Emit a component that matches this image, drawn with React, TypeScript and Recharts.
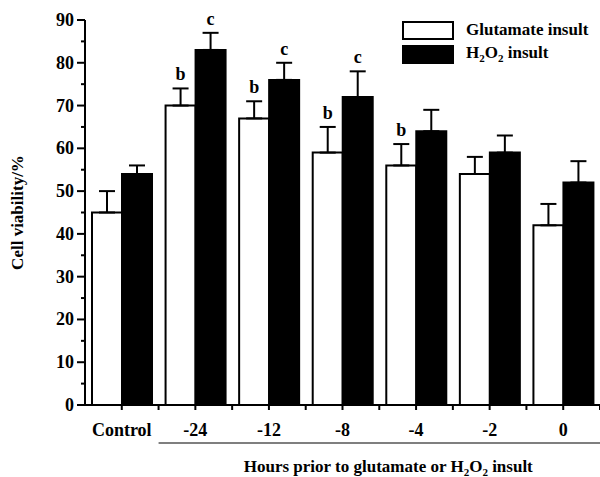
import { Bar, BarChart, ErrorBar, LabelList, XAxis, YAxis } from "recharts";

const categories = ["Control", "-24", "-12", "-8", "-4", "-2", "0"];
const glutamateMean = [45, 70, 67, 59, 56, 54, 42];
const glutamateErr = [5, 4, 4, 6, 5, 4, 5];
const h2o2Mean = [54, 83, 76, 72, 64, 59, 52];
const h2o2Err = [2, 4, 4, 6, 5, 4, 5];
const glutamateSig = ["", "b", "b", "b", "b", "", ""];
const h2o2Sig = ["", "c", "c", "c", "", "", ""];
const yTicks = [0, 5, 10, 15, 20, 25, 30, 35, 40, 45, 50, 55, 60, 65, 70, 75, 80, 85, 90];

const FONT = "'Liberation Serif', 'Times New Roman', serif";

const data = categories.map((name, i) => ({
  name,
  glu: glutamateMean[i],
  gluErr: [0, glutamateErr[i]],
  gluSig: glutamateSig[i],
  h2o2: h2o2Mean[i],
  h2o2Err: [0, h2o2Err[i]],
  h2o2Sig: h2o2Sig[i],
}));

function YTick(props: any) {
  const { x, y, payload } = props;
  const major = payload.value % 10 === 0;
  return (
    <g>
      <line x1={x - (major ? 8 : 4)} x2={x} y1={y} y2={y} stroke="#000" strokeWidth={2} />
      {major && (
        <text
          x={x - 11}
          y={y}
          dy={6}
          textAnchor="end"
          fontFamily={FONT}
          fontWeight="bold"
          fontSize={18}
          fill="#000"
        >
          {payload.value}
        </text>
      )}
    </g>
  );
}

function XTick(props: any) {
  const { x, y, payload } = props;
  const half = payload.offset || 37;
  return (
    <g>
      <line x1={x} x2={x} y1={y} y2={y + 5} stroke="#000" strokeWidth={2} />
      <line x1={x + half} x2={x + half} y1={y} y2={y + 5} stroke="#000" strokeWidth={2} />
      <text
        x={x}
        y={y + 31}
        textAnchor="middle"
        fontFamily={FONT}
        fontWeight="bold"
        fontSize={18}
        fill="#000"
      >
        {payload.value}
      </text>
    </g>
  );
}

function XTitle(props: any) {
  const vb = props.viewBox;
  const x1 = vb.x + vb.width / categories.length;
  const x2 = vb.x + vb.width;
  return (
    <g>
      <line x1={x1} x2={x2} y1={vb.y + 38} y2={vb.y + 38} stroke="#000" strokeWidth={1.2} />
      <text
        x={(x1 + x2) / 2 + 9}
        y={vb.y + 67}
        textAnchor="middle"
        fontFamily={FONT}
        fontWeight="bold"
        fontSize={17}
        fill="#000"
      >
        Hours prior to glutamate or H
        <tspan dy={4} fontSize={11}>2</tspan>
        <tspan dy={-4}>O</tspan>
        <tspan dy={4} fontSize={11}>2</tspan>
        <tspan dy={-4}> insult</tspan>
      </text>
    </g>
  );
}

function YTitle(props: any) {
  const vb = props.viewBox;
  const cx = vb.x + 17;
  const cy = vb.y + vb.height / 2;
  return (
    <text
      x={cx}
      y={cy}
      transform={`rotate(-90 ${cx} ${cy})`}
      textAnchor="middle"
      dominantBaseline="central"
      fontFamily={FONT}
      fontWeight="bold"
      fontSize={17}
      fill="#000"
    >
      Cell viability/%
    </text>
  );
}

function makeSig(means: number[], errs: number[]) {
  return function SigLabel(props: any) {
    const { x, y, width, height, value, index } = props;
    if (!value) return null;
    const mean = means[index];
    const errPx = mean ? (errs[index] / mean) * height : 0;
    return (
      <text
        x={x + width / 2}
        y={y - errPx - 8}
        textAnchor="middle"
        fontFamily={FONT}
        fontWeight="bold"
        fontSize={18}
        fill="#000"
      >
        {value}
      </text>
    );
  };
}

const GluSig = makeSig(glutamateMean, glutamateErr);
const H2o2Sig = makeSig(h2o2Mean, h2o2Err);

const legendText = { fontFamily: FONT, fontWeight: "bold" as const, fontSize: 17, color: "#000" };

export default function App() {
  return (
    <div style={{ position: "absolute", left: 0, top: 0, width: 600, height: 477, background: "#fff" }}>
      <BarChart
        width={600}
        height={477}
        data={data}
        margin={{ top: 20, right: 0, bottom: 0, left: 0 }}
        barGap={0}
        barSize={30}
      >
        <YAxis
          width={85}
          domain={[0, 90]}
          ticks={yTicks}
          interval={0}
          tickSize={0}
          tickMargin={0}
          tick={<YTick />}
          tickLine={false}
          axisLine={{ stroke: "#000", strokeWidth: 2 }}
          label={<YTitle />}
        />
        <XAxis
          dataKey="name"
          height={72}
          interval={0}
          tickSize={0}
          tickMargin={0}
          tick={<XTick />}
          tickLine={false}
          axisLine={{ stroke: "#000", strokeWidth: 2 }}
          label={<XTitle />}
        />
        <Bar dataKey="glu" fill="#fff" stroke="#000" strokeWidth={2} isAnimationActive={false}>
          <ErrorBar dataKey="gluErr" width={8} stroke="#000" strokeWidth={2} direction="y" />
          <LabelList dataKey="gluSig" content={<GluSig />} />
        </Bar>
        <Bar dataKey="h2o2" fill="#000" stroke="#000" strokeWidth={2} isAnimationActive={false}>
          <ErrorBar dataKey="h2o2Err" width={8} stroke="#000" strokeWidth={2} direction="y" />
          <LabelList dataKey="h2o2Sig" content={<H2o2Sig />} />
        </Bar>
      </BarChart>
      <div style={{ position: "absolute", left: 402, top: 18 }}>
        <div style={{ display: "flex", alignItems: "center", height: 24 }}>
          <div style={{ width: 48, height: 15, border: "2px solid #000", background: "#fff" }} />
          <span style={{ ...legendText, marginLeft: 12 }}>Glutamate insult</span>
        </div>
        <div style={{ display: "flex", alignItems: "center", height: 24 }}>
          <div style={{ width: 48, height: 15, border: "2px solid #000", background: "#000" }} />
          <span style={{ ...legendText, marginLeft: 12 }}>
            H<sub style={{ fontSize: 11 }}>2</sub>O<sub style={{ fontSize: 11 }}>2</sub> insult
          </span>
        </div>
      </div>
    </div>
  );
}
